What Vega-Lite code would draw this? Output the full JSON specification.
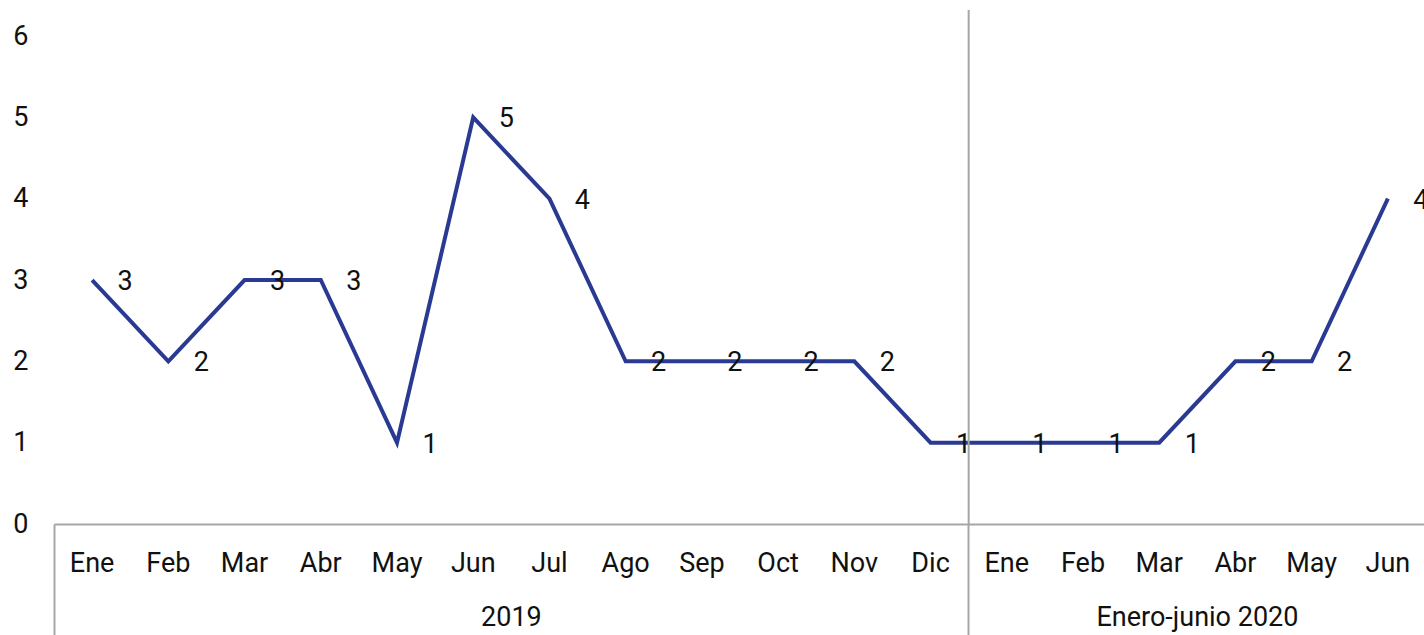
{
  "$schema": "https://vega.github.io/schema/vega-lite/v6.json",
  "width": 1372,
  "height": 514,
  "autosize": {"type": "none"},
  "padding": {"left": 54, "top": 10, "right": 0, "bottom": 111},
  "background": "white",
  "config": {
    "font": "Roboto",
    "view": {"stroke": null},
    "axis": {"labelFont": "Roboto", "labelColor": "#111111", "labelFontSize": 27, "labelFontWeight": "normal"}
  },
  "data": {
    "values": [
      {"key": "2019-01", "mes": "Ene", "periodo": "2019", "valor": 3},
      {"key": "2019-02", "mes": "Feb", "periodo": "2019", "valor": 2},
      {"key": "2019-03", "mes": "Mar", "periodo": "2019", "valor": 3},
      {"key": "2019-04", "mes": "Abr", "periodo": "2019", "valor": 3},
      {"key": "2019-05", "mes": "May", "periodo": "2019", "valor": 1},
      {"key": "2019-06", "mes": "Jun", "periodo": "2019", "valor": 5},
      {"key": "2019-07", "mes": "Jul", "periodo": "2019", "valor": 4},
      {"key": "2019-08", "mes": "Ago", "periodo": "2019", "valor": 2},
      {"key": "2019-09", "mes": "Sep", "periodo": "2019", "valor": 2},
      {"key": "2019-10", "mes": "Oct", "periodo": "2019", "valor": 2},
      {"key": "2019-11", "mes": "Nov", "periodo": "2019", "valor": 2},
      {"key": "2019-12", "mes": "Dic", "periodo": "2019", "valor": 1},
      {"key": "2020-01", "mes": "Ene", "periodo": "Enero-junio 2020", "valor": 1},
      {"key": "2020-02", "mes": "Feb", "periodo": "Enero-junio 2020", "valor": 1},
      {"key": "2020-03", "mes": "Mar", "periodo": "Enero-junio 2020", "valor": 1},
      {"key": "2020-04", "mes": "Abr", "periodo": "Enero-junio 2020", "valor": 2},
      {"key": "2020-05", "mes": "May", "periodo": "Enero-junio 2020", "valor": 2},
      {"key": "2020-06", "mes": "Jun", "periodo": "Enero-junio 2020", "valor": 4}
    ]
  },
  "layer": [
    {
      "mark": {"type": "line", "color": "#2A3A92", "strokeWidth": 4},
      "encoding": {
        "x": {
          "field": "key", "type": "nominal", "sort": "ascending",
          "scale": {"type": "band", "paddingInner": 0, "paddingOuter": 0},
          "axis": {
            "orient": "bottom", "title": null, "labelAngle": 0,
            "labelExpr": "['Ene','Feb','Mar','Abr','May','Jun','Jul','Ago','Sep','Oct','Nov','Dic'][toNumber(slice(datum.value,5))-1]",
            "ticks": false, "domain": true, "domainColor": "#A6A6A6", "domainWidth": 2,
            "labelPadding": 26, "grid": false
          }
        },
        "y": {
          "field": "valor", "type": "quantitative",
          "scale": {"domain": [0, 6.32], "nice": false, "zero": true},
          "axis": {
            "title": null, "values": [0, 1, 2, 3, 4, 5, 6], "format": "d", "grid": false,
            "ticks": false, "domain": false, "labelPadding": 26
          }
        }
      }
    },
    {
      "mark": {"type": "text", "align": "center", "baseline": "middle", "dx": 33, "dy": 2, "fontSize": 27, "color": "#111111"},
      "encoding": {
        "x": {
          "field": "key", "type": "nominal", "sort": "ascending",
          "axis": {
            "orient": "bottom", "title": null, "labelAngle": 0,
            "values": ["2019-07", "2020-04"], "labelOffset": -38, "labelLimit": 500,
            "labelExpr": "datum.value == '2019-07' ? '2019' : 'Enero-junio 2020'",
            "ticks": false, "domain": false, "labelPadding": 80, "grid": false
          }
        },
        "y": {"field": "valor", "type": "quantitative"},
        "text": {"field": "valor", "type": "quantitative"}
      }
    },
    {
      "data": {"values": [{"key": "2020-01"}]},
      "mark": {"type": "rule", "color": "#A6A6A6", "strokeWidth": 2},
      "encoding": {
        "x": {
          "field": "key", "type": "nominal", "sort": "ascending", "bandPosition": 0,
          "axis": {
            "orient": "bottom", "title": null,
            "values": ["2019-01", "2020-01"], "bandPosition": 0,
            "labels": false, "ticks": true, "tickSize": 112, "tickColor": "#A6A6A6", "tickWidth": 2,
            "domain": false, "grid": false
          }
        }
      }
    }
  ],
  "resolve": {"axis": {"x": "independent"}}
}
